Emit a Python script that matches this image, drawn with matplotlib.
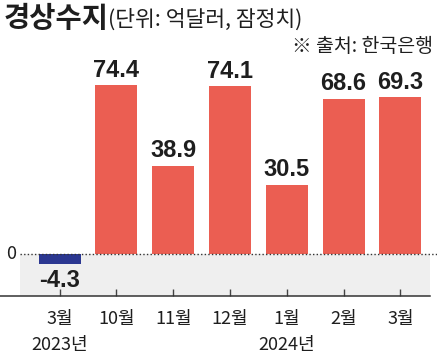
import matplotlib
matplotlib.use("Agg")
import matplotlib.pyplot as plt
from matplotlib.patches import Rectangle

# ---- data ----
categories = ["3월\n2023년", "10월", "11월", "12월", "1월\n2024년", "2월", "3월"]
values = [-4.3, 74.4, 38.9, 74.1, 30.5, 68.6, 69.3]
value_labels = ["-4.3", "74.4", "38.9", "74.1", "30.5", "68.6", "69.3"]
title = "경상수지"
subtitle = "(단위: 억달러, 잠정치)"
source = "※ 출처: 한국은행"

RED = "#EB5E52"
BLUE = "#2B3791"
GRAY = "#EFEFEF"
INK = "#1E1E1E"
KR = ["Noto Sans CJK KR", "DejaVu Sans"]
NUM = ["Liberation Sans Narrow", "Liberation Sans", "DejaVu Sans"]

W, H = 437, 359
fig = plt.figure(figsize=(W / 100, H / 100), dpi=100)

# pixel layout helpers
px0, step = 59.6, 56.8          # bar centre px, spacing
yscale = 2.265                  # px per unit
zero_px, axis_px, right_px = 254, 296, 430

def xd(px):
    return (px - px0) / step

ax = fig.add_axes([0, (H - axis_px) / H, right_px / W, axis_px / H])
ax.set_xlim(xd(0), xd(right_px))
ax.set_ylim(-(axis_px - zero_px) / yscale, zero_px / yscale)
ylo = -(axis_px - zero_px) / yscale

# gray band below zero
ax.add_patch(Rectangle((xd(20), ylo), xd(right_px) - xd(20), -ylo,
                       facecolor=GRAY, edgecolor="none", zorder=0))

xs = list(range(len(values)))
colors = [BLUE if v < 0 else RED for v in values]
ax.bar(xs, values, width=42 / step, color=colors, zorder=2)

# zero dotted line
ax.plot([xd(20), xd(W)], [0, 0], ls=(0, (1, 1.6)), lw=1.0, color="#333333",
        clip_on=False, zorder=3)
ax.text(xd(11), 0, "0", ha="center", va="center", fontsize=13,
        family=KR, color=INK)

# value labels
for x, v, lab in zip(xs, values, value_labels):
    if v >= 0:
        ax.annotate(lab, (x, v), xytext=(0, 2.5), textcoords="offset points",
                    ha="center", va="bottom", fontsize=17, fontweight="bold",
                    family=NUM, color=INK)
    else:
        ax.annotate(lab, (x, v), xytext=(0, -4), textcoords="offset points",
                    ha="center", va="top", fontsize=17, fontweight="bold",
                    family=NUM, color=INK)

# axes styling
for s in ["top", "right", "left"]:
    ax.spines[s].set_visible(False)
ax.spines["bottom"].set_color("#333333")
ax.spines["bottom"].set_linewidth(1.1)
ax.set_yticks([])
ax.set_xticks(xs)
ax.set_xticklabels(categories, fontsize=13, family=KR, color=INK,
                   linespacing=1.55)
ax.tick_params(axis="x", direction="in", length=5, width=1, color="#444444",
               pad=10)

# titles
fig.text(4 / W, 1 - 19 / H, title, ha="left", va="center", fontsize=20.5,
         fontweight="bold", family=KR, color=INK)
fig.text(108 / W, 1 - 20 / H, subtitle, ha="left", va="center",
         fontsize=15.5, family=KR, color=INK)
fig.text(433 / W, 1 - 47 / H, source, ha="right", va="center",
         fontsize=14, family=KR, color=INK)

fig.savefig("out.png", dpi=100)
